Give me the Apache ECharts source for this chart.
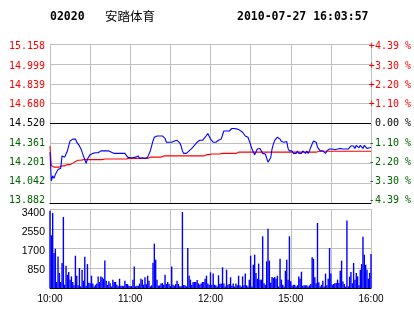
<!DOCTYPE html>
<html>
<head>
<meta charset="utf-8">
<script src="https://cdn.jsdelivr.net/npm/echarts@6/dist/echarts.min.js"></script>
<style>
html,body{margin:0;padding:0;background:#fff;}
#chart{width:414px;height:314px;}
</style>
</head>
<body>
<div id="chart"></div>
<script>
// ---- header texts ----
const stockCode = '02020';
const stockName = '安踏体育';
const stampText = '2010-07-27 16:03:57';

// ---- axis ticks ----
const prevClose = 14.520;
const priceMin = 13.882;
const priceMax = 15.158;
const priceTicks = ['13.882','14.042','14.201','14.361','14.520','14.680','14.839','14.999','15.158'];
const pctTicks = ['-4.39 %','-3.30 %','-2.20 %','-1.10 %',' 0.00 %','+1.10 %','+2.20 %','+3.30 %','+4.39 %'];
const volMax = 3400;
const volInterval = 850;
const volTicks = ['850','1700','2550','3400'];
const timeTickLabels = ['10:00','11:00','12:00','15:00','16:00'];

// ---- minute categories (10:00-12:30, 14:31-16:00) ----
const times = [];
for (let m = 0; m <= 150; m++) { const t = 600 + m; times.push(Math.floor(t/60) + ':' + String(t%60).padStart(2,'0')); }
for (let m = 1; m <= 90; m++) { const t = 870 + m; times.push(Math.floor(t/60) + ':' + String(t%60).padStart(2,'0')); }

// ---- price (per minute) ----
const price = [
14.29,14.06,14.10,14.08,14.11,14.12,14.15,14.15,14.16,14.26,
14.26,14.25,14.275,14.30,14.34,14.38,14.395,14.395,14.395,14.395,
14.37,14.355,14.34,14.32,14.29,14.26,14.23,14.20,14.235,14.25,
14.27,14.275,14.28,14.28,14.285,14.28,14.285,14.28,14.30,14.30,
14.30,14.30,14.30,14.30,14.30,14.30,14.29,14.28,14.28,14.28,
14.28,14.28,14.28,14.28,14.28,14.28,14.28,14.28,14.25,14.235,
14.245,14.24,14.245,14.25,14.25,14.245,14.26,14.24,14.255,14.245,
14.26,14.24,14.255,14.25,14.26,14.30,14.34,14.38,14.41,14.42,
14.42,14.42,14.42,14.42,14.42,14.42,14.40,14.37,14.37,14.37,
14.37,14.37,14.375,14.38,14.385,14.385,14.37,14.365,14.34,14.30,
14.28,14.28,14.28,14.28,14.30,14.315,14.32,14.33,14.345,14.355,
14.37,14.385,14.385,14.385,14.385,14.395,14.41,14.425,14.44,14.45,
14.395,14.38,14.37,14.375,14.37,14.37,14.385,14.395,14.395,14.41,
14.46,14.475,14.46,14.45,14.46,14.475,14.48,14.48,14.48,14.48,
14.475,14.475,14.465,14.46,14.45,14.435,14.42,14.42,14.41,14.395,
14.35,14.315,14.30,14.27,14.27,14.315,14.32,14.32,14.31,14.28,
14.275,14.275,14.26,14.21,14.20,14.245,14.315,14.355,14.385,14.40,
14.41,14.42,14.395,14.375,14.37,14.37,14.375,14.375,14.32,14.30,
14.30,14.30,14.28,14.29,14.28,14.30,14.28,14.29,14.28,14.30,
14.285,14.28,14.30,14.28,14.30,14.33,14.355,14.38,14.385,14.37,
14.33,14.315,14.30,14.30,14.30,14.30,14.28,14.30,14.31,14.315,
14.32,14.315,14.32,14.31,14.32,14.315,14.31,14.32,14.32,14.315,
14.31,14.315,14.32,14.315,14.32,14.34,14.345,14.34,14.32,14.345,
14.34,14.325,14.345,14.34,14.32,14.345,14.33,14.32,14.315,14.325,
14.33
];

// ---- average price (per minute) ----
const avgPrice = [
14.34,14.18,14.17,14.17,14.17,14.17,14.17,14.17,14.17,14.18,
14.18,14.18,14.19,14.19,14.19,14.19,14.20,14.20,14.20,14.215,
14.215,14.225,14.225,14.225,14.23,14.23,14.23,14.23,14.23,14.23,
14.23,14.23,14.23,14.23,14.23,14.23,14.23,14.23,14.23,14.23,
14.235,14.235,14.235,14.235,14.235,14.235,14.235,14.235,14.235,14.235,
14.235,14.235,14.235,14.235,14.235,14.235,14.235,14.235,14.24,14.24,
14.24,14.24,14.24,14.24,14.24,14.24,14.24,14.24,14.24,14.24,
14.24,14.24,14.24,14.24,14.25,14.25,14.25,14.25,14.25,14.25,
14.25,14.25,14.25,14.25,14.26,14.26,14.26,14.26,14.26,14.26,
14.26,14.26,14.26,14.26,14.26,14.26,14.26,14.26,14.26,14.26,
14.26,14.26,14.26,14.26,14.26,14.26,14.26,14.26,14.26,14.26,
14.26,14.26,14.26,14.26,14.26,14.26,14.27,14.27,14.27,14.27,
14.275,14.275,14.275,14.275,14.275,14.275,14.275,14.275,14.275,14.28,
14.28,14.28,14.28,14.28,14.28,14.28,14.28,14.28,14.28,14.28,
14.28,14.29,14.29,14.29,14.29,14.29,14.29,14.29,14.29,14.29,
14.29,14.29,14.29,14.29,14.29,14.29,14.29,14.29,14.29,14.29,
14.29,14.29,14.29,14.29,14.29,14.29,14.29,14.29,14.29,14.29,
14.29,14.29,14.29,14.29,14.29,14.29,14.29,14.29,14.29,14.29,
14.29,14.29,14.29,14.29,14.29,14.29,14.29,14.29,14.29,14.29,
14.29,14.29,14.29,14.29,14.29,14.29,14.29,14.29,14.29,14.29,
14.29,14.297,14.297,14.297,14.297,14.297,14.297,14.297,14.297,14.297,
14.297,14.297,14.297,14.297,14.297,14.297,14.297,14.297,14.297,14.297,
14.297,14.297,14.297,14.297,14.297,14.297,14.297,14.297,14.297,14.297,
14.297,14.297,14.297,14.297,14.297,14.297,14.297,14.297,14.297,14.297,
14.297
];

// ---- volume (per minute) ----
const volume = [
3330,2270,3230,1510,1690,260,1360,650,260,1080,
3060,140,960,570,690,360,500,260,115,1390,
530,115,860,70,790,315,1350,100,1030,230,
200,530,190,70,140,190,490,260,490,460,
400,1180,315,140,290,200,70,360,260,260,
140,80,400,100,100,80,315,170,170,100,
70,80,360,920,70,100,100,190,400,360,
140,460,160,530,315,70,115,1090,1910,1220,
360,100,115,190,215,140,570,170,260,170,
80,920,140,100,170,315,170,70,70,3270,
130,115,70,1720,530,360,140,260,260,260,
345,200,140,190,260,260,400,530,190,140,
675,140,620,140,115,60,545,170,190,890,
190,60,790,140,170,460,100,190,60,190,
115,530,115,60,500,115,620,115,60,360,
1390,60,1000,1435,645,400,1050,360,360,2225,
200,140,1150,2555,1180,230,475,430,475,400,
530,60,1260,360,140,60,745,1220,360,2225,
290,100,140,140,60,115,500,400,700,100,
115,115,115,60,115,170,1320,1260,460,200,
2800,245,60,140,315,60,620,115,400,1720,
620,140,170,200,215,360,215,745,1180,275,
170,60,2900,70,490,690,200,1080,360,650,
500,115,790,1030,2210,1435,1000,790,400,650,
1460
];

const GRID = '#c0c0c0';
const UP = '#ff0000';
const DOWN = '#006400';
function tickColor(idx){ return idx < 4 ? DOWN : (idx === 4 ? '#000000' : UP); }
const monoFont = 'DejaVu Sans Mono';

const chart = echarts.init(document.getElementById('chart'), null, {renderer:'canvas'});
chart.setOption({
  animation: false,
  backgroundColor: '#ffffff',
  graphic: [
    {type:'text', x:50, y:17, style:{text:stockCode, font:'bold 11.5px "DejaVu Sans Mono"', fill:'#000', verticalAlign:'middle'}},
    {type:'text', x:105, y:16, style:{text:stockName, font:'12.5px "Noto Sans CJK SC"', fill:'#000', verticalAlign:'middle'}},
    {type:'text', x:237, y:17, style:{text:stampText, font:'bold 11.5px "DejaVu Sans Mono"', fill:'#000', verticalAlign:'middle'}}
  ],
  grid: [
    {left:50, right:43, top:44, height:159},      // price plot
    {left:50, right:43, top:209, height:79},      // volume plot
    {left:50, right:43, top:46.7, height:154},    // price tick-label band
    {left:50, right:43, top:213, height:57}       // volume tick-label band
  ],
  xAxis: [
    {type:'category', gridIndex:0, data:times, boundaryGap:false,
     axisLine:{lineStyle:{color:'#000', width:1}}, axisTick:{show:false}, axisLabel:{show:false},
     splitLine:{show:true, interval:29, lineStyle:{color:GRID, width:1}}},
    {type:'category', gridIndex:1, data:times, boundaryGap:false,
     axisLine:{lineStyle:{color:'#000', width:1}}, axisTick:{show:false},
     axisLabel:{interval:59, color:'#000', fontFamily:'Liberation Sans', fontSize:10, margin:6,
       formatter:(v, i) => timeTickLabels[Math.round(i/60)] || v},
     splitLine:{show:true, interval:29, lineStyle:{color:GRID, width:1}}},
    {type:'category', gridIndex:2, data:times, show:false},
    {type:'category', gridIndex:3, data:times, show:false}
  ],
  yAxis: [
    {type:'value', gridIndex:0, min:priceMin, max:priceMax, show:false},
    {type:'category', gridIndex:0, data:priceTicks, boundaryGap:false,
     axisLine:{show:false}, axisTick:{show:false}, axisLabel:{show:false},
     splitLine:{show:true, interval:0, lineStyle:{color:GRID, width:1}}},
    {type:'category', gridIndex:2, position:'left', data:priceTicks, boundaryGap:false,
     axisLine:{show:false}, axisTick:{show:false}, splitLine:{show:false},
     axisLabel:{interval:0, color:(v, i) => tickColor(i), fontFamily:monoFont, fontSize:10, margin:5}},
    {type:'category', gridIndex:2, position:'right', data:pctTicks, boundaryGap:false,
     axisLine:{show:false}, axisTick:{show:false}, splitLine:{show:false},
     axisLabel:{interval:0, color:(v, i) => tickColor(i), fontFamily:monoFont, fontSize:10, margin:1, align:'left'}},
    {type:'value', gridIndex:1, min:0, max:volMax, interval:volInterval,
     axisLine:{show:false}, axisTick:{show:false}, axisLabel:{show:false},
     splitLine:{show:true, lineStyle:{color:GRID, width:1}}},
    {type:'category', gridIndex:3, position:'left', data:volTicks, boundaryGap:false,
     axisLine:{show:false}, axisTick:{show:false}, splitLine:{show:false},
     axisLabel:{interval:0, color:'#000', fontFamily:'Liberation Sans', fontSize:10.5, margin:5}}
  ],
  series: [
    {type:'line', xAxisIndex:0, yAxisIndex:0, data:price, symbol:'none', silent:true,
     lineStyle:{color:'#0000ff', width:1.1}, itemStyle:{color:'#0000ff'}, z:3,
     markLine:{silent:true, symbol:['none','none'], label:{show:false},
       lineStyle:{color:'#000', type:'solid', width:1}, data:[{yAxis:prevClose}]}},
    {type:'line', xAxisIndex:0, yAxisIndex:0, data:avgPrice, symbol:'none', silent:true,
     lineStyle:{color:'#ff0000', width:1.1}, itemStyle:{color:'#ff0000'}, z:2},
    {type:'bar', xAxisIndex:1, yAxisIndex:4, data:volume, barWidth:1.4, silent:true,
     itemStyle:{color:'#0000ff'}}
  ]
});
</script>
</body>
</html>
